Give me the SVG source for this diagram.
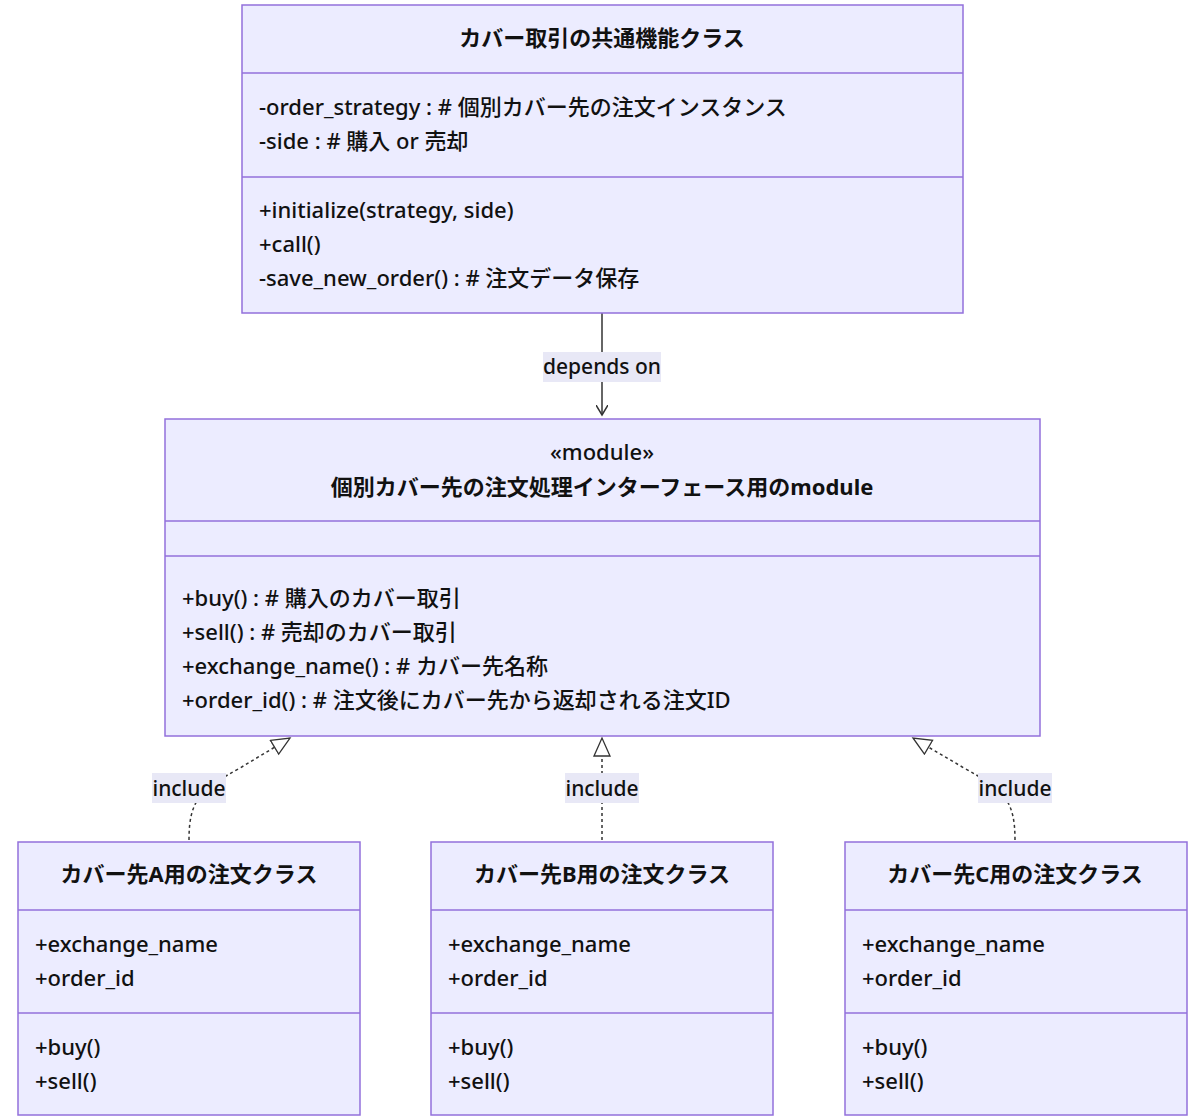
<svg xmlns="http://www.w3.org/2000/svg" width="1200" height="1120" viewBox="0 0 1200 1120">
<style>
.box{fill:#ECECFF;stroke:#9370DB;stroke-width:1.5}
.div{stroke:#9370DB;stroke-width:1.5}
text{font-family:"Noto Sans","Noto Sans CJK JP",sans-serif;font-size:22px;font-weight:500;fill:#111}
.t{font-weight:bold;text-anchor:middle}
.c{text-anchor:middle}
.l{font-size:21px}
.edge{fill:none;stroke:#333;stroke-width:1.5}
.dash{stroke-dasharray:3,3}
.lbl{fill:#E8E8F6}
</style>
<defs>
<marker id="arrow" markerWidth="12" markerHeight="12" refX="10" refY="6" orient="auto" markerUnits="userSpaceOnUse"><path d="M0,0 L10,6 L0,12" fill="none" stroke="#333" stroke-width="1.5"/></marker>
<marker id="tri" markerWidth="22" markerHeight="20" refX="19" refY="9" orient="auto" markerUnits="userSpaceOnUse"><path d="M1,1 L19,9 L1,17 Z" fill="#fff" stroke="#333" stroke-width="1.3"/></marker>
</defs>
<g id="edges">
<path class="edge" d="M602,313 L602,415" marker-end="url(#arrow)"/>
<rect class="lbl" x="543" y="352" width="118" height="30"/>
<text class="c l" x="602" y="374">depends on</text>
<path class="edge dash" d="M189,840 C189,800 200,790 240,768 L290,738" marker-end="url(#tri)"/>
<path class="edge dash" d="M602,840 L602,738" marker-end="url(#tri)"/>
<path class="edge dash" d="M1015,840 C1015,800 1004,790 964,768 L913,738" marker-end="url(#tri)"/>
<rect class="lbl" x="152" y="773" width="74" height="30"/>
<text class="c l" x="189" y="796">include</text>
<rect class="lbl" x="565" y="773" width="74" height="30"/>
<text class="c l" x="602" y="796">include</text>
<rect class="lbl" x="978" y="773" width="74" height="30"/>
<text class="c l" x="1015" y="796">include</text>
</g>
<g id="common">
<rect class="box" x="242" y="5" width="721" height="308"/>
<line class="div" x1="242" y1="73" x2="963" y2="73"/>
<line class="div" x1="242" y1="177" x2="963" y2="177"/>
<text class="t" x="602" y="46">カバー取引の共通機能クラス</text>
<text x="259" y="115">-order_strategy : # 個別カバー先の注文インスタンス</text>
<text x="259" y="149">-side : # 購入 or 売却</text>
<text x="259" y="218">+initialize(strategy, side)</text>
<text x="259" y="252">+call()</text>
<text x="259" y="286">-save_new_order() : # 注文データ保存</text>
</g>
<g id="module">
<rect class="box" x="165" y="419" width="875" height="317"/>
<line class="div" x1="165" y1="521" x2="1040" y2="521"/>
<line class="div" x1="165" y1="556" x2="1040" y2="556"/>
<text class="c" x="602" y="460">«module»</text>
<text class="t" x="602" y="495">個別カバー先の注文処理インターフェース用のmodule</text>
<text x="182" y="606">+buy() : # 購入のカバー取引</text>
<text x="182" y="640">+sell() : # 売却のカバー取引</text>
<text x="182" y="674">+exchange_name() : # カバー先名称</text>
<text x="182" y="708">+order_id() : # 注文後にカバー先から返却される注文ID</text>
</g>
<g id="classA">
<rect class="box" x="18" y="842" width="342" height="273"/>
<line class="div" x1="18" y1="910" x2="360" y2="910"/>
<line class="div" x1="18" y1="1013" x2="360" y2="1013"/>
<text class="t" x="189" y="882">カバー先A用の注文クラス</text>
<text x="35" y="952">+exchange_name</text>
<text x="35" y="986">+order_id</text>
<text x="35" y="1055">+buy()</text>
<text x="35" y="1089">+sell()</text>
</g>
<g id="classB">
<rect class="box" x="431" y="842" width="342" height="273"/>
<line class="div" x1="431" y1="910" x2="773" y2="910"/>
<line class="div" x1="431" y1="1013" x2="773" y2="1013"/>
<text class="t" x="602" y="882">カバー先B用の注文クラス</text>
<text x="448" y="952">+exchange_name</text>
<text x="448" y="986">+order_id</text>
<text x="448" y="1055">+buy()</text>
<text x="448" y="1089">+sell()</text>
</g>
<g id="classC">
<rect class="box" x="845" y="842" width="342" height="273"/>
<line class="div" x1="845" y1="910" x2="1187" y2="910"/>
<line class="div" x1="845" y1="1013" x2="1187" y2="1013"/>
<text class="t" x="1015" y="882">カバー先C用の注文クラス</text>
<text x="862" y="952">+exchange_name</text>
<text x="862" y="986">+order_id</text>
<text x="862" y="1055">+buy()</text>
<text x="862" y="1089">+sell()</text>
</g>
</svg>
